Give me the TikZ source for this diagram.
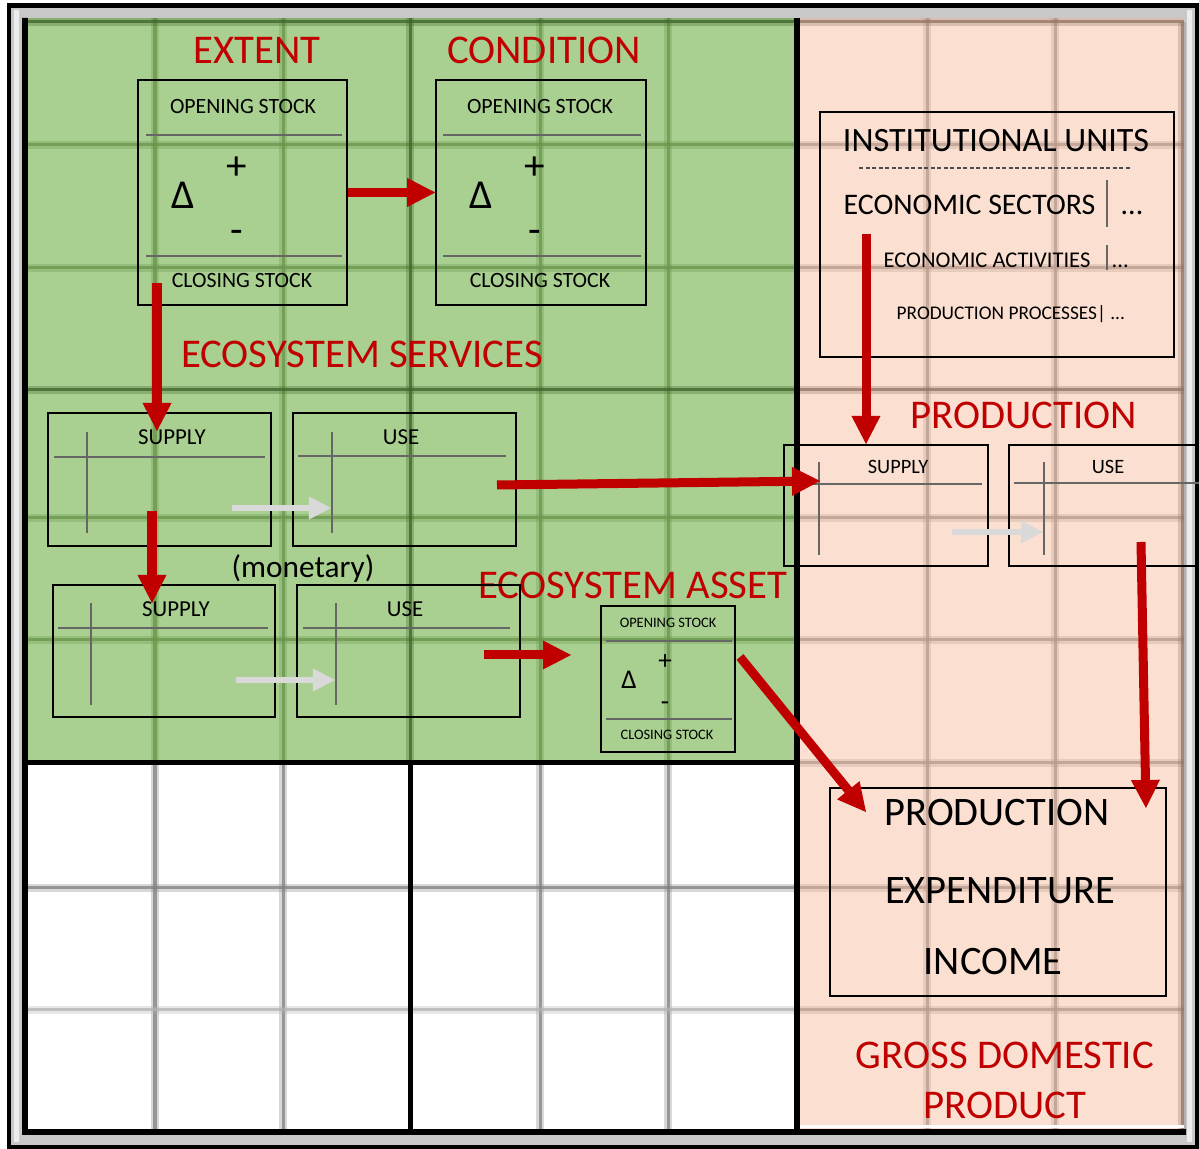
\documentclass[tikz,border=0pt]{standalone}
\usepackage{fontspec}
\setmainfont{Carlito}
\usepackage{tikz}
\usetikzlibrary{arrows.meta,positioning}
\definecolor{leaf}{RGB}{169,207,145}
\definecolor{leafline}{RGB}{105,150,75}
\definecolor{leafdark}{RGB}{62,100,42}
\definecolor{peach}{RGB}{251,224,210}
\definecolor{peachline}{RGB}{185,155,140}
\definecolor{peachdark}{RGB}{145,115,100}
\definecolor{accred}{RGB}{192,0,0}
\definecolor{hintgray}{RGB}{217,217,217}
\definecolor{rim}{RGB}{200,200,200}

\begin{document}
\begin{tikzpicture}[x=0.01cm,y=-0.01cm,
  soft/.style={draw=#1,line width=0.03cm,draw opacity=.75,preaction={draw=#1,draw opacity=.3,line width=0.085cm}},
  box/.style={draw,line width=0.4pt,inner sep=0},
  rule/.style={draw=black!60,line width=0.35pt},
  flow/.style={color=accred,line width=0.09cm,-{Triangle[length=0.28cm,width=0.29cm,line width=0pt]}},
  hint/.style={color=hintgray,line width=0.065cm,-{Triangle[length=0.22cm,width=0.23cm,line width=0pt]}},
  head/.style={text=accred,font=\fontsize{11.6}{14}\selectfont,inner sep=0},
  big/.style={font=\fontsize{11.5}{14}\selectfont,inner sep=0},
  stock/.style={font=\fontsize{6.2}{7}\selectfont,inner sep=0},
  sign/.style={font=\fontsize{11.7}{13}\selectfont,inner sep=0},
  tab/.style={font=\fontsize{6.5}{8}\selectfont,inner sep=0},
  ptab/.style={font=\fontsize{5.8}{7}\selectfont,inner sep=0},
  mini/.style={font=\fontsize{4.1}{5}\selectfont,inner sep=0},
  minisign/.style={font=\fontsize{7.7}{9}\selectfont,inner sep=0}]
  \useasboundingbox (0,0) rectangle (1199,1149);
  \fill[black] (7,3) rectangle (1199,1149);
  \fill[rim] (11,8) rectangle (1195,1145);
  \fill[rim!35] (14,10) rectangle (19,1142) (1187,10) rectangle (1192,1142);
  \fill[black] (22,18) rectangle (28,1135) (22,1129) rectangle (1186,1135);
  \fill[leaf] (28,18) rectangle (797,763);
  \fill[peach] (797,18) rectangle (1184,1129);
  \fill[white] (28,763) rectangle (797,1129);

  \foreach \gx in {155,283,540,668} \draw[soft=leafline] (\gx,18) -- (\gx,763);
  \foreach \gy in {145,268,518,640} \draw[soft=leafline] (28,\gy) -- (797,\gy);
  \draw[soft=leafdark] (410,18) -- (410,763);
  \draw[soft=leafdark] (28,390) -- (797,390);
  \draw[soft=leafdark] (28,22) -- (797,22);
  \foreach \gx in {927,1055} \draw[soft=peachline] (\gx,18) -- (\gx,1129);
  \foreach \gy in {145,268,518,640,888,1010} \draw[soft=peachline] (797,\gy) -- (1184,\gy);
  \draw[soft=peachdark] (797,390) -- (1184,390);
  \draw[soft=peachline] (797,763) -- (1184,763);
  \draw[soft=peachdark] (797,22) -- (1184,22);
  \draw[soft=peachdark] (1182,22) -- (1182,1129);
  \draw[white,line width=0.03cm] (797,1127) -- (1184,1127);
  \foreach \gx in {155,283,540,668} \draw[soft=gray] (\gx,763) -- (\gx,1129);
  \draw[soft=gray] (28,888) -- (797,888);
  \draw[soft=gray!60] (28,1010) -- (797,1010);
  \draw[line width=0.05cm] (410,763) -- (410,1129);
  \draw[line width=0.05cm] (28,763) -- (797,763);
  \draw[line width=0.06cm] (797,18) -- (797,1129);

  \node[head] (extent) at (257,50) {EXTENT};
  \node[head] (condition) at (544,50) {CONDITION};
  \node[head] (services) at (362,354) {ECOSYSTEM SERVICES};
  \node[head] (production) at (1024,415) {PRODUCTION};
  \node[head] (asset-name) at (633,585) {ECOSYSTEM ASSET};
  \node[head,align=center,font=\fontsize{11.6}{14.2}\selectfont] (gdp-name) at (1005,1080) {GROSS DOMESTIC\\PRODUCT};
  \node[font=\fontsize{8.9}{11}\selectfont,inner sep=0] (monetary) at (303,569) {(monetary)};

  \node[box,minimum width=2.09cm,minimum height=2.25cm] (ext) at (242.5,192.5) {};
  \node[stock] (ext-open) at (243,107) {OPENING STOCK};
  \node[sign] (ext-delta) at (183,195) {Δ};
  \node[sign] (ext-plus) at (237,168) {+};
  \node[sign] (ext-minus) at (237,237) {-};
  \node[stock] (ext-close) at (242,281) {CLOSING STOCK};
  \draw[rule] (146,135) -- (342,135) (146,256) -- (342,256);

  \node[box,minimum width=2.10cm,minimum height=2.25cm] (cond) at (541,192.5) {};
  \node[stock] (cond-open) at (540,107) {OPENING STOCK};
  \node[sign] (cond-delta) at (481,195) {Δ};
  \node[sign] (cond-plus) at (535,168) {+};
  \node[sign] (cond-minus) at (535,237) {-};
  \node[stock] (cond-close) at (540,281) {CLOSING STOCK};
  \draw[rule] (443,135) -- (641,135) (443,256) -- (641,256);

  \node[box,minimum width=2.23cm,minimum height=1.33cm] (es-sup) at (159.5,479.5) {};
  \node[tab] (es-sup-t) at (172,437) {SUPPLY};
  \draw[rule] (54,457) -- (265,457) (87,432) -- (87,533);
  \node[box,minimum width=2.23cm,minimum height=1.33cm] (es-use) at (404.5,479.5) {};
  \node[tab] (es-use-t) at (401,437) {USE};
  \draw[rule] (298,456) -- (506,456) (332,432) -- (332,533);
  \node[box,minimum width=2.22cm,minimum height=1.32cm] (mo-sup) at (164,651) {};
  \node[tab] (mo-sup-t) at (176,609) {SUPPLY};
  \draw[rule] (58,628) -- (268,628) (91,603) -- (91,705);
  \node[box,minimum width=2.23cm,minimum height=1.32cm] (mo-use) at (408.5,651) {};
  \node[tab] (mo-use-t) at (405,609) {USE};
  \draw[rule] (303,628) -- (510,628) (336,603) -- (336,705);

  \node[box,minimum width=1.34cm,minimum height=1.46cm] (asset) at (668,679) {};
  \node[mini] (asset-open) at (668,623) {OPENING STOCK};
  \node[minisign] (asset-delta) at (629,680) {Δ};
  \node[minisign] (asset-plus) at (665,662) {+};
  \node[minisign] (asset-minus) at (665,706) {-};
  \node[mini] (asset-close) at (667,735) {CLOSING STOCK};
  \draw[rule] (606,641) -- (732,641) (606,719) -- (732,719);

  \node[box,minimum width=3.54cm,minimum height=2.45cm] (inst) at (997,234.5) {};
  \node[font=\fontsize{9.7}{11}\selectfont,inner sep=0,anchor=base] (units) at (996,152) {INSTITUTIONAL UNITS};
  \draw[black!70,line width=0.3pt,dash pattern=on 0.04cm off 0.025cm] (859,168) -- (1130,168);
  \node[font=\fontsize{8.5}{10}\selectfont,inner sep=0,anchor=base west] (sectors) at (843,215) {ECONOMIC SECTORS};
  \node[font=\fontsize{8.5}{10}\selectfont,inner sep=0,anchor=base west] (sectors-more) at (1120,215) {...};
  \draw[rule] (1107,180) -- (1107,227);
  \node[font=\fontsize{6.4}{8}\selectfont,inner sep=0,anchor=base west] (activities) at (883,268) {ECONOMIC ACTIVITIES};
  \node[font=\fontsize{6.4}{8}\selectfont,inner sep=0,anchor=base west] (activities-more) at (1111,268) {...};
  \draw[rule] (1107,245) -- (1107,270);
  \node[font=\fontsize{5.5}{7}\selectfont,inner sep=0,anchor=base west] (processes) at (896,320) {PRODUCTION PROCESSES| ...};

  \node[box,minimum width=2.04cm,minimum height=1.21cm] (pr-sup) at (886,505.5) {};
  \node[ptab] (pr-sup-t) at (898,467) {SUPPLY};
  \draw[rule] (790,484) -- (982,484) (819,462) -- (819,555);
  \node[box,minimum width=2.11cm,minimum height=1.21cm] (pr-use) at (1114.5,505.5) {};
  \node[ptab] (pr-use-t) at (1108,467) {USE};
  \draw[rule] (1014,483) -- (1215,483) (1044,462) -- (1044,555);

  \node[box,minimum width=3.36cm,minimum height=2.08cm] (gdp) at (998,892) {};
  \node[big] (gdp-prod) at (997,813) {PRODUCTION};
  \node[big] (gdp-exp) at (1000,891) {EXPENDITURE};
  \node[big] (gdp-inc) at (993,962) {INCOME};

  \coordinate (ext-drop) at (157,283);
  \coordinate (sup-in) at (157,431);
  \coordinate (sup-drop) at (152,511);
  \coordinate (mon-in) at (152,603);
  \coordinate (use-feed) at (497,485);
  \coordinate (prod-in) at (820,481);
  \coordinate (use-push) at (484,655);
  \coordinate (asset-in) at (571,655);
  \coordinate (asset-out) at (740,657);
  \coordinate (gdp-in) at (866,812);
  \coordinate (unit-drop) at (866,234);
  \coordinate (unit-in) at (866,444);
  \coordinate (use-drop) at (1141,542);
  \coordinate (gdp-top) at (1146,808);
  \coordinate (es-flow-a) at (232,508);
  \coordinate (es-flow-b) at (331,508);
  \coordinate (mo-flow-a) at (236,680);
  \coordinate (mo-flow-b) at (335,680);
  \coordinate (pr-flow-a) at (952,532);
  \coordinate (pr-flow-b) at (1043,532);

  \path[hint]
  (es-flow-a) edge (es-flow-b)
  (mo-flow-a) edge (mo-flow-b)
  (pr-flow-a) edge (pr-flow-b)
  ;
  \path[flow]
  (ext) edge (cond)
  (ext-drop) edge (sup-in)
  (sup-drop) edge (mon-in)
  (use-feed) edge (prod-in)
  (use-push) edge (asset-in)
  (asset-out) edge (gdp-in)
  (unit-drop) edge (unit-in)
  (use-drop) edge (gdp-top)
  ;
\end{tikzpicture}
\end{document}
